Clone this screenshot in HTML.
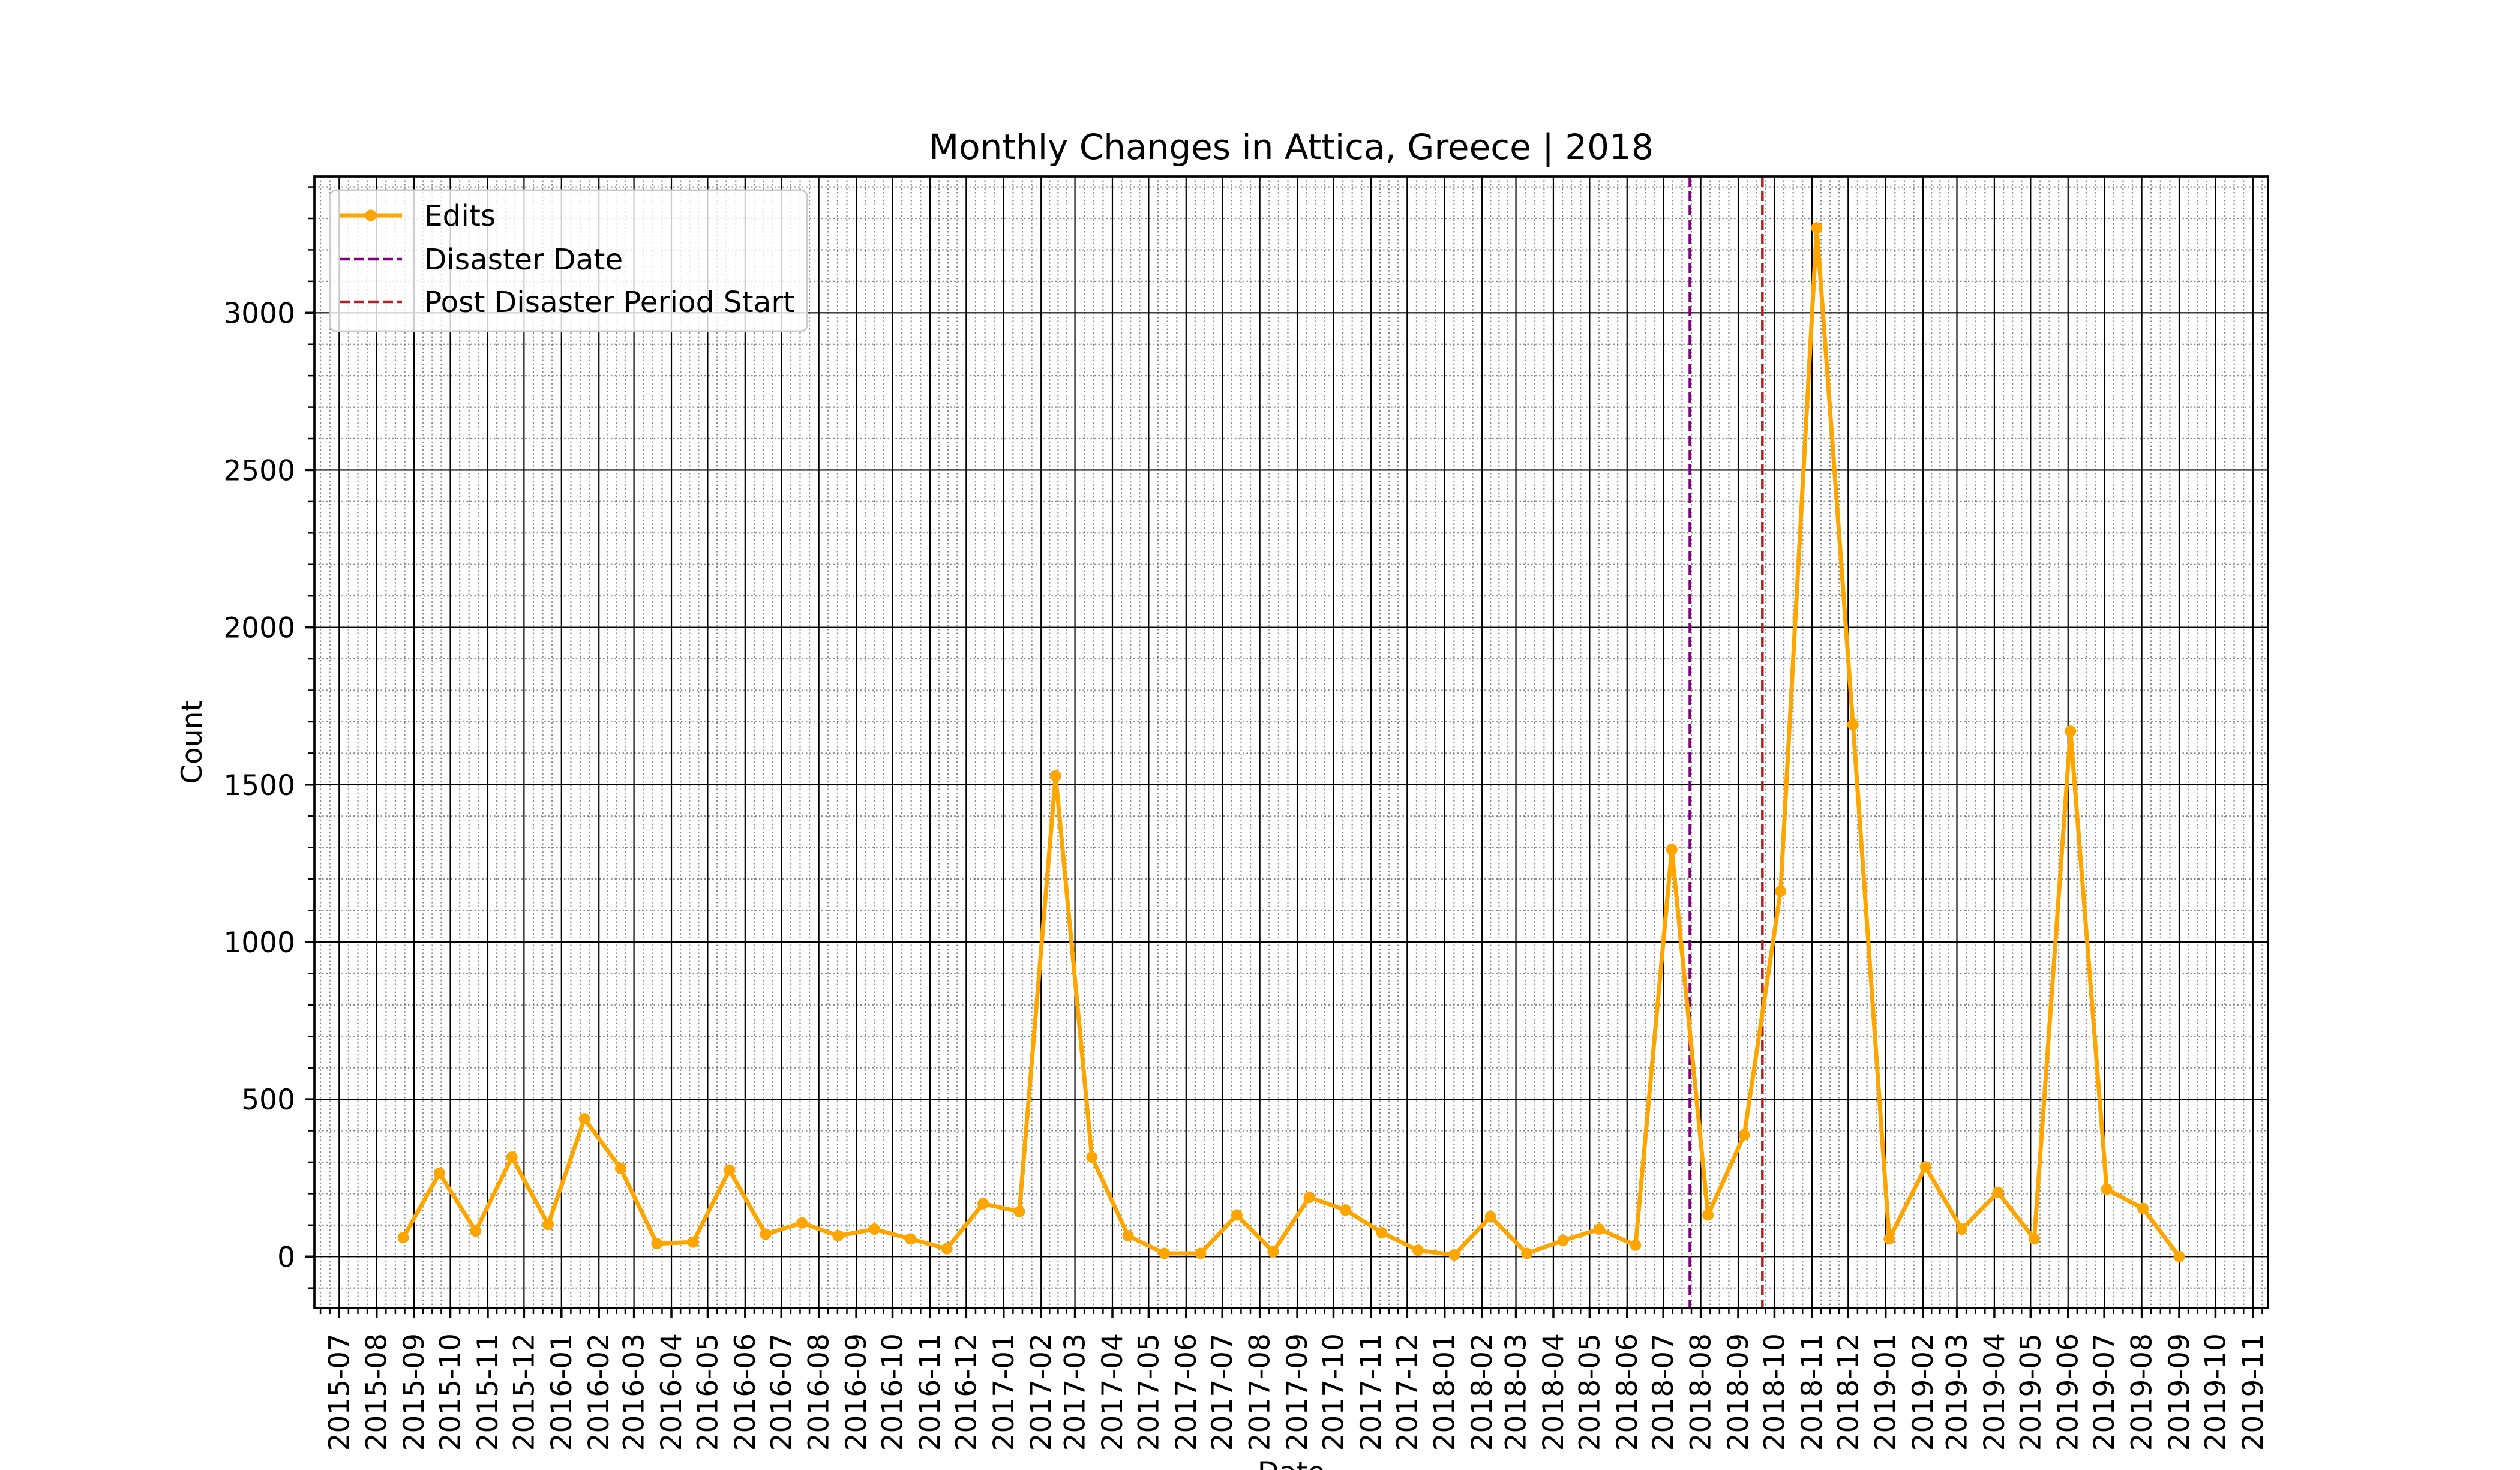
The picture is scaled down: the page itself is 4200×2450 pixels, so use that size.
<!DOCTYPE html>
<html><head><meta charset="utf-8"><style>
html,body{margin:0;padding:0;background:#fff;}
svg{display:block;font-family:"DejaVu Sans","Liberation Sans",sans-serif;}
</style></head><body>
<svg id="chart" width="4200" height="2450" viewBox="0 0 4200 2450" xmlns="http://www.w3.org/2000/svg">
<rect x="0" y="0" width="4200" height="2450" fill="#fff"/>
<g id="grid"></g>
<g id="vlines"></g>
<g id="series"></g>
<g id="axes"></g>
<text x="2152" y="265" font-size="58" text-anchor="middle">Monthly Changes in Attica, Greece | 2018</text>
<text transform="translate(336,1237) rotate(-90)" font-size="47" text-anchor="middle">Count</text>
<text x="2152" y="2470" font-size="47" text-anchor="middle">Date</text>
<g>
<rect x="550" y="317" width="795" height="235" rx="10" fill="#fff" fill-opacity="0.8" stroke="#cccccc" stroke-width="3"/>
<line x1="566" y1="359" x2="670" y2="359" stroke="#ffa500" stroke-width="7"/>
<circle cx="618" cy="359" r="9.5" fill="#ffa500"/>
<text x="707" y="376" font-size="48.5">Edits</text>
<line x1="566" y1="432" x2="670" y2="432" stroke="#800080" stroke-width="4.5" stroke-dasharray="17,7"/>
<text x="707" y="449" font-size="48.5">Disaster Date</text>
<line x1="566" y1="503" x2="670" y2="503" stroke="#b22222" stroke-width="4.5" stroke-dasharray="17,7"/>
<text x="707" y="520" font-size="48.5">Post Disaster Period Start</text>
</g>
</svg>
<script>
var startDate = "2015-08-23";
var stepDays = 30;
var editValues = [60,265,81,316,102,438,280,41,46,275,71,107,66,87,56,25,168,143,1528,316,66,10,10,132,15,188,148,76,20,5,127,10,51,87,36,1294,132,387,1161,3270,1691,56,285,87,204,56,1670,214,153,0];
var yTicks = [0,500,1000,1500,2000,2500,3000];
var disasterDate = "2018-07-23";
var postStartDate = "2018-09-21";
var firstMonth = [2015,7];
var lastMonth = [2019,11];

var NS = "http://www.w3.org/2000/svg";
var L = 524, R = 3780, T = 294, B = 2180;
var X0 = -20.5, X1 = 1596.5, Y0 = -163.5, Y1 = 3433.5;
var BASE = Date.UTC(2015,6,1);
function dayOf(s){var p=s.split("-");return (Date.UTC(+p[0],+p[1]-1,+p[2])-BASE)/86400000;}
function xs(d){return L + (d - X0) * (R - L) / (X1 - X0);}
function ys(v){return B - (v - Y0) * (B - T) / (Y1 - Y0);}
function mk(tag, attrs, parent){var e=document.createElementNS(NS,tag);for(var k in attrs)e.setAttribute(k,attrs[k]);parent.appendChild(e);return e;}

var grid=document.getElementById("grid"), axes=document.getElementById("axes"), series=document.getElementById("series"), vlines=document.getElementById("vlines");

var months=[];
var y=firstMonth[0], m=firstMonth[1];
while(y<lastMonth[0]||(y===lastMonth[0]&&m<=lastMonth[1])){months.push([y,m]);m++;if(m>12){m=1;y++;}}
var mdays=months.map(function(a){return (Date.UTC(a[0],a[1]-1,1)-BASE)/86400000;});
var minorX=[];
for(var i=-1;i<mdays.length;i++){
  var a,b;
  if(i<0){b=mdays[0];a=b-(mdays[1]-mdays[0]);}
  else if(i===mdays.length-1){a=mdays[i];b=a+(mdays[i]-mdays[i-1]);}
  else{a=mdays[i];b=mdays[i+1];}
  for(var k=1;k<4;k++){var d=a+(b-a)*k/4;if(d>X0&&d<X1)minorX.push(d);}
}
minorX.forEach(function(d){
  var x=xs(d);
  var ln=mk("line",{x1:x,y1:T,x2:x,y2:B,stroke:"#888","stroke-width":2.2,"stroke-dasharray":"2.5,4"},grid);
  
  
  var tk=mk("line",{x1:x,y1:B,x2:x,y2:B+10,stroke:"#000","stroke-width":2.5},axes);
  
  
});
for(var v=-100;v<=3400;v+=100){
  if(v%500===0)continue;
  var yy=ys(v);
  var ln2=mk("line",{x1:L,y1:yy,x2:R,y2:yy,stroke:"#888","stroke-width":2.2,"stroke-dasharray":"2.5,4"},grid);
  
  
  var tk2=mk("line",{x1:L-10,y1:yy,x2:L,y2:yy,stroke:"#000","stroke-width":2.5},axes);
  
  
}
months.forEach(function(a,i){
  var x=xs(mdays[i]);
  var ln=mk("line",{x1:x,y1:T,x2:x,y2:B,stroke:"#000","stroke-width":2.2},grid);
  
  
  var tk=mk("line",{x1:x,y1:B,x2:x,y2:B+16,stroke:"#000","stroke-width":3.5},axes);
  
  
  var lbl=a[0]+"-"+(a[1]<10?"0":"")+a[1];
  var t=mk("text",{transform:"translate("+(x+16)+","+(B+42)+") rotate(-90)","font-size":47,"text-anchor":"end"},axes);
  t.textContent=lbl;
  
  
});
yTicks.forEach(function(v){
  var yy=ys(v);
  var ln=mk("line",{x1:L,y1:yy,x2:R,y2:yy,stroke:"#000","stroke-width":2.2},grid);
  
  
  var tk=mk("line",{x1:L-16,y1:yy,x2:L,y2:yy,stroke:"#000","stroke-width":3.5},axes);
  
  
  var t=mk("text",{x:L-32,y:yy+17,"font-size":47,"text-anchor":"end"},axes);
  t.textContent=String(v);
  
  
});
var sp=mk("rect",{x:L,y:T,width:R-L,height:B-T,fill:"none",stroke:"#000","stroke-width":3.7},axes);



[[disasterDate,"#800080","disaster-date-line"],[postStartDate,"#b22222","post-disaster-start-line"]].forEach(function(e){
  var x=xs(dayOf(e[0]));
  var ln=mk("line",{x1:x,y1:T,x2:x,y2:B,stroke:e[1],"stroke-width":4.5,"stroke-dasharray":"17,7"},vlines);
  
  
});

var d0=dayOf(startDate);
var pts=editValues.map(function(v,i){return [xs(d0+i*stepDays),ys(v)];});
var pl=mk("polyline",{points:pts.map(function(p){return p[0].toFixed(1)+","+p[1].toFixed(1);}).join(" "),fill:"none",stroke:"#ffa500","stroke-width":7,"stroke-linejoin":"round"},series);


pts.forEach(function(p){
  var c=mk("circle",{cx:p[0],cy:p[1],r:9.5,fill:"#ffa500"},series);
  
  
});
</script>
</body></html>
